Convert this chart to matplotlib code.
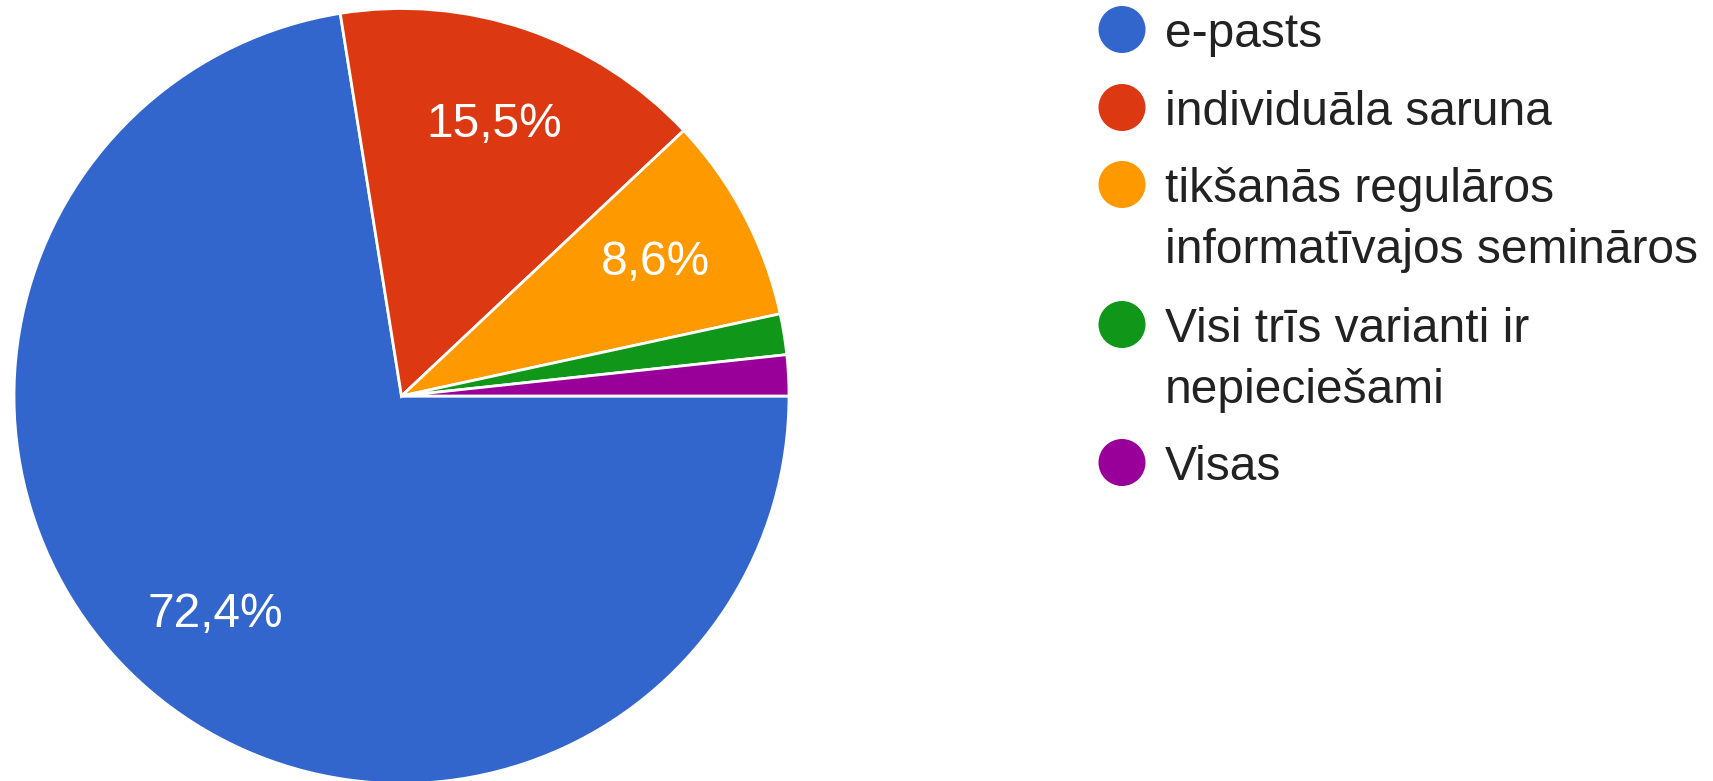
import matplotlib
matplotlib.use("Agg")
import matplotlib.pyplot as plt
from matplotlib.patches import Circle
import numpy as np

categories = ["e-pasts", "individuāla saruna",
              "tikšanās regulāros\ninformatīvajos semināros",
              "Visi trīs varianti ir\nnepieciešami", "Visas"]
values = [72.4, 15.5, 8.6, 1.7, 1.7]
colors = ["#3366CC", "#DC3912", "#FF9900", "#109618", "#990099"]

plt.rcParams['font.family'] = ['Liberation Sans', 'DejaVu Sans']

W, H = 1713, 781
fig = plt.figure(figsize=(W / 100, H / 100), dpi=100)

cx, cy, r = 401.5, 396.0, 387.5
ax = fig.add_axes([(cx - r) / W, (H - cy - r) / H, 2 * r / W, 2 * r / H])
wedges, _ = ax.pie(values, colors=colors, startangle=0, counterclock=False,
                   radius=1.0, wedgeprops=dict(edgecolor="white", linewidth=2.0))
ax.set_xlim(-1, 1)
ax.set_ylim(-1, 1)
ax.set_aspect("equal")
ax.axis("off")

total = sum(values)
for w, v in zip(wedges, values):
    if v / total < 0.05:
        continue
    ang = np.deg2rad((w.theta1 + w.theta2) / 2)
    d = 0.74
    ax.text(d * np.cos(ang), d * np.sin(ang), f"{v:.1f}".replace(".", ",") + "%",
            ha="center", va="center", color="white", fontsize=34.5)

# legend overlay in pixel coordinates
lax = fig.add_axes([0, 0, 1, 1])
lax.set_xlim(0, W)
lax.set_ylim(H, 0)
lax.axis("off")
circle_x = 1122
text_x = 1165
first_baselines = [47, 125, 202, 342, 480]
line_gap = 61
for lbl, col, b in zip(categories, colors, first_baselines):
    lax.add_patch(Circle((circle_x, b - 17.5), 23.5, color=col, lw=0))
    for i, line in enumerate(lbl.split("\n")):
        lax.text(text_x, b + i * line_gap, line, ha="left", va="baseline",
                 color="#222222", fontsize=34.5)

fig.savefig("out.png", dpi=100)
